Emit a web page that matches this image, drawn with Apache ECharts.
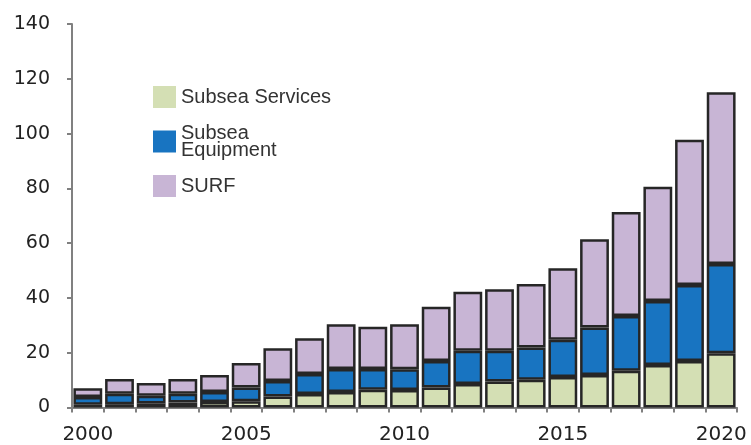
<!DOCTYPE html>
<html>
<head>
<meta charset="utf-8">
<script src="https://cdn.jsdelivr.net/npm/echarts@6/dist/echarts.min.js"></script>
<style>html,body{margin:0;padding:0;background:#fff;}#c{width:751px;height:445px;}</style>
</head>
<body>
<div id="c"></div>
<script>
const years = ['2000','2001','2002','2003','2004','2005','2006','2007','2008','2009','2010','2011','2012','2013','2014','2015','2016','2017','2018','2019','2020'];
const subseaServices = [1.0,1.2,1.5,1.8,2.0,2.3,4.0,4.9,5.7,6.5,6.4,7.3,8.6,9.5,10.1,11.1,11.9,13.4,15.5,17.0,19.8];
const subseaEquipment = [2.8,3.8,2.8,3.2,3.7,5.0,5.7,7.3,8.4,7.6,7.6,9.7,12.1,11.2,11.8,13.6,17.3,20.0,23.4,27.7,32.6];
const surf = [3.2,5.4,4.6,5.4,6.2,8.9,11.9,13.1,16.3,15.4,16.4,19.8,21.6,22.5,23.2,26.1,32.2,38.0,41.7,53.0,62.7];
const yTicks = {min:0, max:140, interval:20};

const chart = echarts.init(document.getElementById('c'), null, {renderer:'canvas'});
const border = {borderColor:'#262626', borderWidth:2.5};
function s(name, data, color){
  return {name, type:'bar', stack:'t', data, barCategoryGap:'9%',
    itemStyle:Object.assign({color}, border), emphasis:{disabled:true}};
}
chart.setOption({
  animation:false,
  grid:{left:72, right:14, top:24, bottom:37.5},
  legend:{
    orient:'vertical', left:153, top:86, padding:0,
    itemWidth:23, itemHeight:22, itemGap:15,
    icon:'rect',
    itemStyle:{borderWidth:0},
    selectedMode:false,
    data:['Subsea Services','Subsea Equipment','SURF'],
    formatter:n => n==='Subsea Equipment' ? 'Subsea\nEquipment' : n,
    textStyle:{fontFamily:'Liberation Sans', fontSize:20, lineHeight:17, color:'#333'}
  },
  xAxis:{
    type:'category', data:years,
    axisLine:{lineStyle:{color:'#808080', width:2}},
    axisTick:{show:true, interval:0, length:5, lineStyle:{color:'#808080', width:2}},
    axisLabel:{interval:4, margin:17, fontFamily:'DejaVu Sans', fontSize:20, color:'#222'}
  },
  yAxis:{
    type:'value', min:yTicks.min, max:yTicks.max, interval:yTicks.interval,
    splitLine:{show:false},
    axisLine:{show:true, lineStyle:{color:'#808080', width:2}},
    axisTick:{show:true, length:5, lineStyle:{color:'#808080', width:2}},
    axisLabel:{margin:22, fontFamily:'DejaVu Sans', fontSize:19, color:'#222'}
  },
  series:[
    s('Subsea Services', subseaServices, '#d4dfb4'),
    s('Subsea Equipment', subseaEquipment, '#1874c1'),
    s('SURF', surf, '#c8b5d5')
  ]
});
</script>
</body>
</html>
